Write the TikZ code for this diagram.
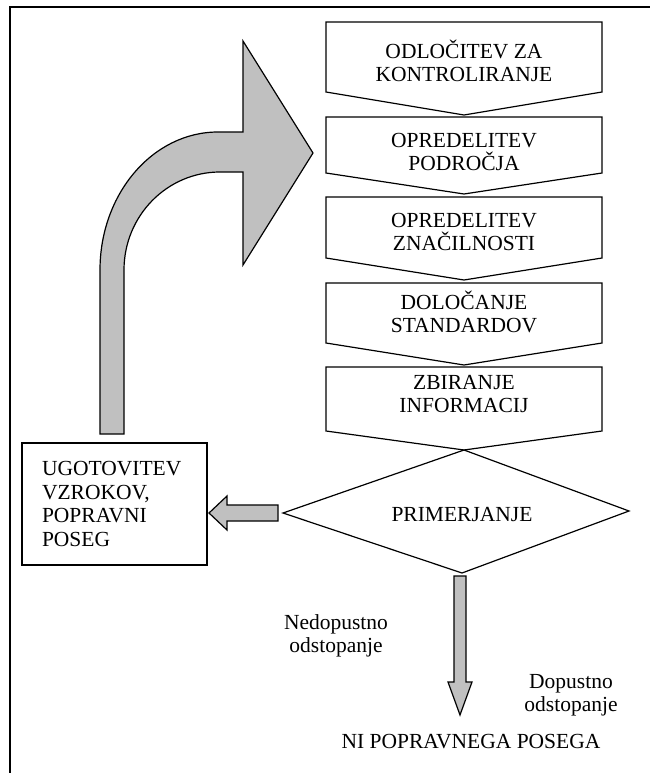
\documentclass[tikz,border=0pt]{standalone}
\usepackage{fontspec}
\setmainfont{Liberation Serif}
\usetikzlibrary{arrows.meta}
\definecolor{arrowgray}{RGB}{192,192,192}

\tikzset{
  label text/.style={font=\fontsize{21.5}{23.5}\selectfont, align=center, inner sep=0pt},
  step shape/.style={draw, line width=1.2pt},
  block arrow/.style={draw, fill=arrowgray, line width=1.2pt, line join=miter},
}

\begin{document}
\begin{tikzpicture}[x=1pt, y=1pt]
    \useasboundingbox (0,0) rectangle (650,-773);

    % Frame
    \draw[line width=2.2pt] (10,-773) -- (10,-7) -- (650,-7);

    % Steps (top / side bottom / tip / text)
    \foreach \name/\ya/\yb/\yc/\yt/\txt in {
        decide/22/92/115/61/{ODLOČITEV ZA\\KONTROLIRANJE},
        area/117/173/194/152/{OPREDELITEV\\PODROČJA},
        traits/197/258/280/232/{OPREDELITEV\\ZNAČILNOSTI},
        standards/283/343/365/312/{DOLOČANJE\\STANDARDOV},
        collect/367/431/450/394/{ZBIRANJE\\INFORMACIJ}} {
        \draw[step shape] (326,-\ya) -- (602,-\ya) -- (602,-\yb) -- (464,-\yc) -- (326,-\yb) -- cycle;
        \node[label text] (\name) at (464,-\yt) {\txt};
    }

    % Comparison
    \draw[step shape] (464,-450) -- (629,-511) -- (462,-573) -- (283,-513) -- cycle;
    \node[label text] (compare) at (462,-515) {PRIMERJANJE};

    % Corrective action
    \node[draw, line width=1.2pt, minimum height=122pt, text width=145pt,
          inner xsep=20pt, inner ysep=0pt, align=left,
          font=\fontsize{21.5}{23.5}\selectfont] (fix) at (114.5,-504)
          {UGOTOVITEV\\VZROKOV,\\POPRAVNI\\POSEG};

    % Feedback arrow
    \draw[block arrow] (100,-434) -- (100,-270)
        arc[start angle=180, end angle=90, x radius=118, y radius=138]
        -- (243,-132) -- (243,-41) -- (313,-153) -- (243,-265) -- (243,-172) -- (220,-172)
        arc[start angle=90, end angle=180, x radius=96, y radius=98]
        -- (124,-434) -- cycle;

    % Arrow to corrective action
    \draw[block arrow] (278,-505) -- (227,-505) -- (227,-496) -- (209,-513)
        -- (227,-530) -- (227,-521) -- (278,-521) -- cycle;

    % Arrow down
    \draw[block arrow] (454,-576) -- (466,-576) -- (466,-682) -- (472,-682)
        -- (460,-715) -- (448,-682) -- (454,-682) -- cycle;

    % Outcomes
    \node[label text] (bad) at (336,-636) {Nedopustno\\odstopanje};
    \node[label text] (good) at (571,-695) {Dopustno\\odstopanje};
    \node[label text] (none) at (471,-742) {NI POPRAVNEGA POSEGA};
\end{tikzpicture}
\end{document}
